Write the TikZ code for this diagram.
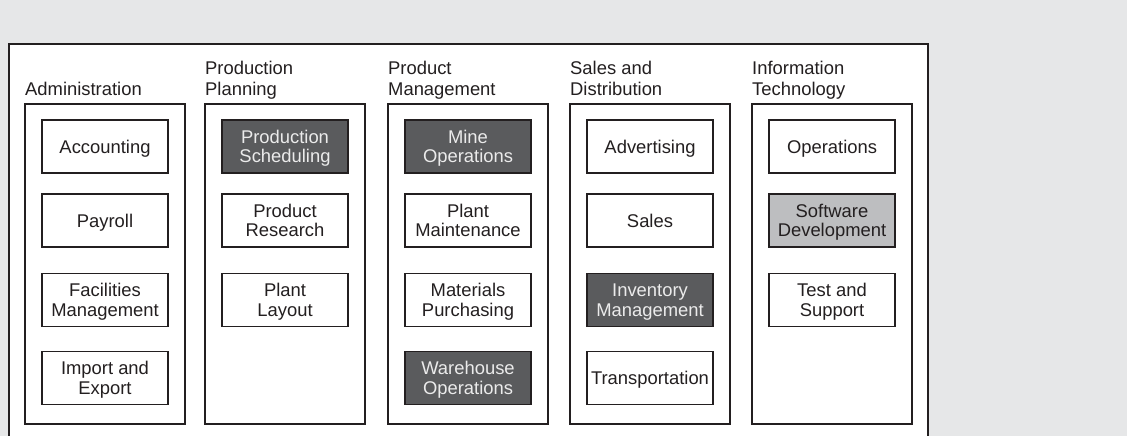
\documentclass[tikz,border=0pt]{standalone}
\usepackage{fontspec}
\setmainfont{Liberation Sans}
\usetikzlibrary{positioning}

\definecolor{pagegray}{HTML}{E6E7E8}
\definecolor{darkfill}{HTML}{5A5B5D}
\definecolor{lightfill}{HTML}{BDBEC0}
\definecolor{inkline}{HTML}{231F20}

\tikzset{
  unit/.style={draw=inkline, line width=1.4pt, fill=white, minimum width=126pt,
    minimum height=53pt, align=center, inner sep=0pt, text depth=0pt,
    font=\fontsize{18.4}{19.4}\selectfont, text=inkline},
  darkunit/.style={unit, fill=darkfill, text=white!92!black},
  greyunit/.style={unit, fill=lightfill},
  dept/.style={anchor=south west, inner sep=0pt, align=left, text depth=4pt,
    font=\fontsize{18.4}{21.7}\selectfont, text=inkline},
  colbox/.style={draw=inkline, line width=1.4pt}
}

\begin{document}
\begin{tikzpicture}[x=1pt, y=-1pt]

\useasboundingbox (0,0) rectangle (1127,436);
\fill[pagegray] (0,0) rectangle (1127,436);
\filldraw[fill=white, draw=inkline, line width=1.4pt] (9,440) -- (9,44) -- (928,44) -- (928,440);

\def\ytop{104};
\def\ybot{424};

% Administration
\draw[colbox] (25,\ytop) rectangle (185,\ybot);
\node[dept] (admin) at (25,100) {Administration};
\node[unit] (accounting) at (105,146.5) {Accounting};
\node[unit] (payroll) at (105,220.5) {Payroll};
\node[unit] (facilities) at (105,300) {Facilities\\Management};
\node[unit] (import) at (105,378) {Import and\\Export};

% Production Planning
\draw[colbox] (205,\ytop) rectangle (365,\ybot);
\node[dept] (prodplan) at (205,100) {Production\\Planning};
\node[darkunit] (scheduling) at (285,146.5) {Production\\Scheduling};
\node[unit] (research) at (285,220.5) {Product\\Research};
\node[unit] (layout) at (285,300) {Plant\\Layout};

% Product Management
\draw[colbox] (388,\ytop) rectangle (548,\ybot);
\node[dept] (prodmgmt) at (388,100) {Product\\Management};
\node[darkunit] (mine) at (468,146.5) {Mine\\Operations};
\node[unit] (maintenance) at (468,220.5) {Plant\\Maintenance};
\node[unit] (purchasing) at (468,300) {Materials\\Purchasing};
\node[darkunit] (warehouse) at (468,378) {Warehouse\\Operations};

% Sales and Distribution
\draw[colbox] (570,\ytop) rectangle (730,\ybot);
\node[dept] (salesdist) at (570,100) {Sales and\\Distribution};
\node[unit] (advertising) at (650,146.5) {Advertising};
\node[unit] (sales) at (650,220.5) {Sales};
\node[darkunit] (inventory) at (650,300) {Inventory\\Management};
\node[unit] (transport) at (650,378) {Transportation};

% Information Technology
\draw[colbox] (752,\ytop) rectangle (912,\ybot);
\node[dept] (infotech) at (752,100) {Information\\Technology};
\node[unit] (operations) at (832,146.5) {Operations};
\node[greyunit] (software) at (832,220.5) {Software\\Development};
\node[unit] (testing) at (832,300) {Test and\\Support};

\end{tikzpicture}
\end{document}
